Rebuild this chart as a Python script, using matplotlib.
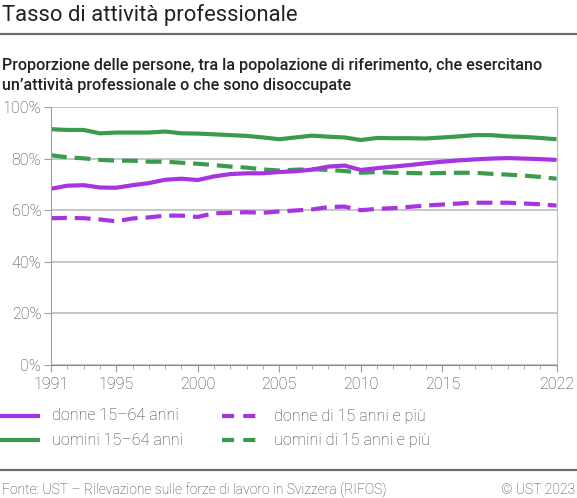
import matplotlib
matplotlib.use("Agg")
import matplotlib.pyplot as plt
from matplotlib.lines import Line2D
from matplotlib.ticker import MultipleLocator, FixedLocator

plt.rcParams['font.family'] = ['Roboto', 'DejaVu Sans']

# Data
years = list(range(1991, 2023))
donne_15_64 = [68.3, 69.5, 69.7, 68.8, 68.7, 69.7, 70.5, 71.8, 72.2, 71.7, 73.1,
               74.0, 74.3, 74.3, 74.8, 75.1, 75.7, 76.9, 77.3, 75.6, 76.3, 76.9,
               77.5, 78.2, 78.8, 79.3, 79.7, 80.0, 80.2, 80.0, 79.8, 79.5]
uomini_15_64 = [91.4, 91.1, 91.1, 89.8, 90.1, 90.1, 90.1, 90.5, 89.8, 89.7, 89.4,
                89.1, 88.8, 88.2, 87.5, 88.2, 88.9, 88.5, 88.2, 87.2, 88.0, 87.9,
                87.9, 87.8, 88.2, 88.6, 89.1, 89.1, 88.6, 88.4, 88.0, 87.5]
donne_15_plus = [56.9, 57.0, 56.9, 56.4, 55.7, 56.8, 57.2, 57.9, 57.9, 57.4, 58.8,
                 59.0, 59.2, 59.0, 59.5, 59.9, 60.3, 61.2, 61.4, 60.0, 60.5, 60.8,
                 61.3, 61.8, 62.2, 62.6, 62.9, 62.9, 62.9, 62.6, 62.3, 61.8]
uomini_15_plus = [81.3, 80.5, 80.1, 79.5, 79.2, 79.2, 78.8, 78.8, 78.4, 78.0, 77.5,
                  76.9, 76.5, 75.8, 75.4, 75.7, 75.9, 75.6, 75.2, 74.5, 74.8, 74.5,
                  74.4, 74.3, 74.4, 74.5, 74.5, 74.1, 73.8, 73.4, 72.9, 72.2]

x_ticks = [1991, 1995, 2000, 2005, 2010, 2015, 2022]
y_ticks = [0, 20, 40, 60, 80, 100]

purple = '#a634e0'
green = '#3c9a4e'
dash = (0, (3.8, 1.9))
legend_dash = (0, (2.9, 2.2))
lw = 3

fig = plt.figure(figsize=(5.77, 4.98), dpi=100)
W, H = 577, 498
ax = fig.add_axes([51 / W, 1 - 365 / H, 505.5 / W, 258 / H])

ax.plot(years, uomini_15_64, color=green, lw=lw, solid_capstyle='butt')
ax.plot(years, uomini_15_plus, color=green, lw=lw, linestyle=dash, dash_capstyle='butt')
ax.plot(years, donne_15_64, color=purple, lw=lw, solid_capstyle='butt')
ax.plot(years, donne_15_plus, color=purple, lw=lw, linestyle=dash, dash_capstyle='butt')

ax.set_xlim(1991, 2022)
ax.set_ylim(0, 100)
ax.xaxis.set_major_locator(FixedLocator(x_ticks))
ax.xaxis.set_minor_locator(MultipleLocator(1))
ax.yaxis.set_major_locator(FixedLocator(y_ticks))
ax.set_yticklabels([f'{v}%' for v in y_ticks])
ax.grid(axis='y', color='#bdbdbd', lw=1.2)
ax.set_axisbelow(True)

ax.spines['top'].set_visible(False)
ax.spines['right'].set_color('#bdbdbd')
ax.spines['left'].set_color('#a0a0a0')
ax.spines['bottom'].set_color('#8a8a8a')
ax.tick_params(axis='both', labelsize=11.6, labelcolor='#3a3a3a', color='#a0a0a0')
ax.tick_params(axis='x', which='major', length=5, pad=3.5)
ax.tick_params(axis='x', which='minor', length=3, color='#a0a0a0')
ax.tick_params(axis='y', length=5, pad=2)
for lbl in ax.get_xticklabels() + ax.get_yticklabels():
    lbl.set_fontweight('light')

# Titles
fig.text(2 / W, 1 - 21 / H, 'Tasso di attività professionale', fontsize=15.8,
         color='#222222', fontweight='normal')
fig.add_artist(Line2D([0, 1], [1 - 34 / H, 1 - 34 / H], color='#6e6e6e', lw=1.6))
fig.text(2 / W, 1 - 70 / H, 'Proporzione delle persone, tra la popolazione di riferimento, che esercitano',
         fontsize=11.6, color='#222222', fontweight='medium')
fig.text(2 / W, 1 - 90 / H, "un’attività professionale o che sono disoccupate",
         fontsize=11.6, color='#222222', fontweight='medium')

# Legend
legend_items = [
    (0, 416, purple, '-', 'donne 15–64 anni'),
    (0, 440, green, '-', 'uomini 15–64 anni'),
    (222, 416, purple, legend_dash, 'donne di 15 anni e più'),
    (222, 440, green, legend_dash, 'uomini di 15 anni e più'),
]
for lx, ly, col, ls, lab in legend_items:
    fig.add_artist(Line2D([lx / W, (lx + 40) / W], [1 - ly / H, 1 - ly / H],
                          color=col, lw=lw, linestyle=ls, solid_capstyle='butt',
                          dash_capstyle='butt'))
    fig.text((lx + 52) / W, 1 - ly / H, lab, fontsize=11.6, color='#3a3a3a',
             va='center', fontweight='light')

# Footer
fig.add_artist(Line2D([0, 1], [1 - 470 / H, 1 - 470 / H], color='#6e6e6e', lw=1.6))
fig.text(2 / W, 1 - 490 / H, 'Fonte: UST – Rilevazione sulle forze di lavoro in Svizzera (RIFOS)',
         fontsize=10, color='#3a3a3a', va='center', fontweight='light')
fig.text(1 - 2 / W, 1 - 490 / H, '© UST 2023', fontsize=10, color='#3a3a3a',
         va='center', ha='right', fontweight='light')

fig.savefig('out.png', dpi=100)
